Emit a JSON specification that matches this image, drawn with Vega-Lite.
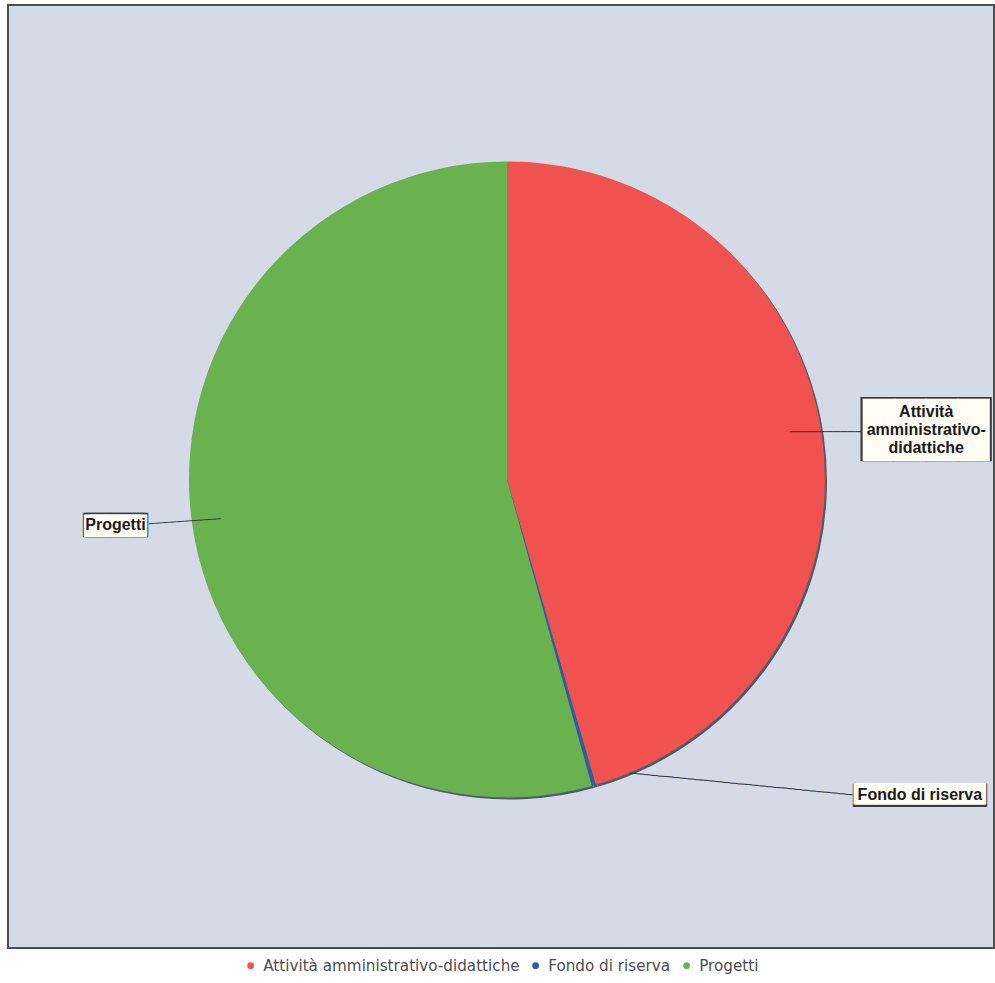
{
 "$schema": "https://vega.github.io/schema/vega-lite/v6.json",
 "width": 986,
 "height": 943,
 "autosize": {"type": "none"},
 "padding": {"left": 8, "top": 5, "right": 1, "bottom": 35},
 "background": "#ffffff",
 "config": {
  "view": {"stroke": null},
  "legend": {"layout": {"bottom": {"anchor": "middle"}}}
 },
 "data": {"values": [
  {"categoria": "Attività amministrativo-didattiche", "valore": 45.5},
  {"categoria": "Fondo di riserva", "valore": 0.2},
  {"categoria": "Progetti", "valore": 54.3}
 ]},
 "layer": [
  {
   "data": {"values": [{"riquadro": "area del grafico"}]},
   "mark": {"type": "rect", "fill": "#d5dbe6", "stroke": "#4d4d4d", "strokeWidth": 2},
   "encoding": {}
  },
  {
   "mark": {"type": "arc", "radius": 318, "xOffset": 8, "yOffset": 5, "color": "#4f5b6b"},
   "encoding": {
    "theta": {"field": "valore", "type": "quantitative", "stack": true},
    "order": {"field": "categoria", "sort": "ascending"}
   }
  },
  {
   "mark": {"type": "arc", "radius": 318, "xOffset": 6, "yOffset": 3},
   "encoding": {
    "theta": {"field": "valore", "type": "quantitative", "stack": true},
    "order": {"field": "categoria", "sort": "ascending"},
    "color": {
     "field": "categoria", "type": "nominal",
     "scale": {"domain": ["Attività amministrativo-didattiche", "Fondo di riserva", "Progetti"], "range": ["#f0524f", "#2c5ea8", "#6ab150"]},
     "legend": {"orient": "bottom", "direction": "horizontal", "title": null, "symbolType": "circle", "symbolSize": 45, "labelFont": "DejaVu Sans", "labelFontSize": 15.2, "labelColor": "#4d4d4d", "labelLimit": 400, "columnPadding": 8, "labelOffset": 5, "offset": 10, "padding": 0}
    }
   }
  },
  {
   "mark": {"type": "text", "font": "DejaVu Sans Mono", "fontSize": 12, "color": "#2f3a46", "radius": 322, "dx": 6, "dy": 1, "align": "center", "baseline": "middle"},
   "encoding": {
    "theta": {"field": "valore", "type": "quantitative", "stack": true},
    "order": {"field": "categoria", "sort": "ascending"},
    "detail": {"field": "categoria"},
    "text": {"condition": {"test": "datum.categoria === 'Attività amministrativo-didattiche'", "value": "──────────"}, "value": ""}
   }
  },
  {
   "mark": {"type": "text", "font": "DejaVu Sans Mono", "fontSize": 12, "color": "#2f3a46", "radius": 325, "dx": 5.9, "dy": 1.4, "angle": -4, "align": "center", "baseline": "middle"},
   "encoding": {
    "theta": {"field": "valore", "type": "quantitative", "stack": true},
    "order": {"field": "categoria", "sort": "ascending"},
    "detail": {"field": "categoria"},
    "text": {"condition": {"test": "datum.categoria === 'Progetti'", "value": "──────────"}, "value": ""}
   }
  },
  {
   "mark": {"type": "text", "font": "DejaVu Sans Mono", "fontSize": 12, "color": "#2f3a46", "radius": 50, "dx": 250.4, "dy": 236.1, "angle": 5.6, "align": "center", "baseline": "middle"},
   "encoding": {
    "theta": {"field": "valore", "type": "quantitative", "stack": true},
    "order": {"field": "categoria", "sort": "ascending"},
    "detail": {"field": "categoria"},
    "text": {"condition": {"test": "datum.categoria === 'Fondo di riserva'", "value": "───────────────────────────────"}, "value": ""}
   }
  },
  {
   "mark": {"type": "text", "font": "DejaVu Sans Mono", "fontSize": 54.1, "color": "#3c3c3c", "radius": 420, "dx": 9.4, "dy": 15.0, "align": "center", "baseline": "middle"},
   "encoding": {
    "theta": {"field": "valore", "type": "quantitative", "stack": true},
    "order": {"field": "categoria", "sort": "ascending"},
    "detail": {"field": "categoria"},
    "text": {"condition": {"test": "datum.categoria === 'Attività amministrativo-didattiche'", "value": "████"}, "value": ""}
   }
  },
  {
   "mark": {"type": "text", "font": "DejaVu Sans Mono", "fontSize": 52.4, "color": "#fdfdf3", "radius": 420, "dx": 9.4, "dy": 14.9, "align": "center", "baseline": "middle"},
   "encoding": {
    "theta": {"field": "valore", "type": "quantitative", "stack": true},
    "order": {"field": "categoria", "sort": "ascending"},
    "detail": {"field": "categoria"},
    "text": {"condition": {"test": "datum.categoria === 'Attività amministrativo-didattiche'", "value": "████"}, "value": ""}
   }
  },
  {
   "mark": {"type": "text", "font": "Liberation Sans", "fontSize": 16, "fontWeight": "bold", "lineHeight": 18, "color": "#1a1a1a", "radius": 420, "dx": 9.4, "dy": -5.5, "align": "center", "baseline": "middle"},
   "encoding": {
    "theta": {"field": "valore", "type": "quantitative", "stack": true},
    "order": {"field": "categoria", "sort": "ascending"},
    "detail": {"field": "categoria"},
    "text": {"condition": {"test": "datum.categoria === 'Attività amministrativo-didattiche'", "value": ["Attività", "amministrativo-", "didattiche"]}, "value": ""}
   }
  },
  {
   "mark": {"type": "text", "font": "DejaVu Sans Mono", "fontSize": 20.6, "color": "#3c3c3c", "radius": 395, "dx": 4.4, "dy": -3.45, "align": "center", "baseline": "middle"},
   "encoding": {
    "theta": {"field": "valore", "type": "quantitative", "stack": true},
    "order": {"field": "categoria", "sort": "ascending"},
    "detail": {"field": "categoria"},
    "text": {"condition": {"test": "datum.categoria === 'Progetti'", "value": "█████"}, "value": ""}
   }
  },
  {
   "mark": {"type": "text", "font": "DejaVu Sans Mono", "fontSize": 20.6, "color": "#3c3c3c", "radius": 395, "dx": 7.4, "dy": -3.45, "align": "center", "baseline": "middle"},
   "encoding": {
    "theta": {"field": "valore", "type": "quantitative", "stack": true},
    "order": {"field": "categoria", "sort": "ascending"},
    "detail": {"field": "categoria"},
    "text": {"condition": {"test": "datum.categoria === 'Progetti'", "value": "█████"}, "value": ""}
   }
  },
  {
   "mark": {"type": "text", "font": "DejaVu Sans Mono", "fontSize": 18.9, "color": "#fdfdf3", "radius": 395, "dx": 2.85, "dy": -3.53, "align": "center", "baseline": "middle"},
   "encoding": {
    "theta": {"field": "valore", "type": "quantitative", "stack": true},
    "order": {"field": "categoria", "sort": "ascending"},
    "detail": {"field": "categoria"},
    "text": {"condition": {"test": "datum.categoria === 'Progetti'", "value": "█████"}, "value": ""}
   }
  },
  {
   "mark": {"type": "text", "font": "DejaVu Sans Mono", "fontSize": 18.9, "color": "#fdfdf3", "radius": 395, "dx": 8.95, "dy": -3.53, "align": "center", "baseline": "middle"},
   "encoding": {
    "theta": {"field": "valore", "type": "quantitative", "stack": true},
    "order": {"field": "categoria", "sort": "ascending"},
    "detail": {"field": "categoria"},
    "text": {"condition": {"test": "datum.categoria === 'Progetti'", "value": "█████"}, "value": ""}
   }
  },
  {
   "mark": {"type": "text", "font": "Liberation Sans", "fontSize": 16, "fontWeight": "bold", "color": "#1a1a1a", "radius": 395, "dx": 5.9, "dy": -4.4, "align": "center", "baseline": "middle"},
   "encoding": {
    "theta": {"field": "valore", "type": "quantitative", "stack": true},
    "order": {"field": "categoria", "sort": "ascending"},
    "detail": {"field": "categoria"},
    "text": {"condition": {"test": "datum.categoria === 'Progetti'", "field": "categoria"}, "value": ""}
   }
  },
  {
   "mark": {"type": "text", "font": "DejaVu Sans Mono", "fontSize": 19.76, "color": "#3c3c3c", "radius": 50, "dx": 403.65, "dy": 270.9, "align": "center", "baseline": "middle"},
   "encoding": {
    "theta": {"field": "valore", "type": "quantitative", "stack": true},
    "order": {"field": "categoria", "sort": "ascending"},
    "detail": {"field": "categoria"},
    "text": {"condition": {"test": "datum.categoria === 'Fondo di riserva'", "value": "███████████"}, "value": ""}
   }
  },
  {
   "mark": {"type": "text", "font": "DejaVu Sans Mono", "fontSize": 19.76, "color": "#3c3c3c", "radius": 50, "dx": 406.75, "dy": 270.9, "align": "center", "baseline": "middle"},
   "encoding": {
    "theta": {"field": "valore", "type": "quantitative", "stack": true},
    "order": {"field": "categoria", "sort": "ascending"},
    "detail": {"field": "categoria"},
    "text": {"condition": {"test": "datum.categoria === 'Fondo di riserva'", "value": "███████████"}, "value": ""}
   }
  },
  {
   "mark": {"type": "text", "font": "DejaVu Sans Mono", "fontSize": 18.04, "color": "#fdfdf3", "radius": 50, "dx": 404.35, "dy": 270.8, "align": "center", "baseline": "middle"},
   "encoding": {
    "theta": {"field": "valore", "type": "quantitative", "stack": true},
    "order": {"field": "categoria", "sort": "ascending"},
    "detail": {"field": "categoria"},
    "text": {"condition": {"test": "datum.categoria === 'Fondo di riserva'", "value": "████████████"}, "value": ""}
   }
  },
  {
   "mark": {"type": "text", "font": "DejaVu Sans Mono", "fontSize": 18.04, "color": "#fdfdf3", "radius": 50, "dx": 406.05, "dy": 270.8, "align": "center", "baseline": "middle"},
   "encoding": {
    "theta": {"field": "valore", "type": "quantitative", "stack": true},
    "order": {"field": "categoria", "sort": "ascending"},
    "detail": {"field": "categoria"},
    "text": {"condition": {"test": "datum.categoria === 'Fondo di riserva'", "value": "████████████"}, "value": ""}
   }
  },
  {
   "mark": {"type": "text", "font": "Liberation Sans", "fontSize": 16, "fontWeight": "bold", "color": "#1a1a1a", "radius": 50, "dx": 405.2, "dy": 270, "align": "center", "baseline": "middle"},
   "encoding": {
    "theta": {"field": "valore", "type": "quantitative", "stack": true},
    "order": {"field": "categoria", "sort": "ascending"},
    "detail": {"field": "categoria"},
    "text": {"condition": {"test": "datum.categoria === 'Fondo di riserva'", "value": "Fondo di riserva"}, "value": ""}
   }
  }
 ]
}
